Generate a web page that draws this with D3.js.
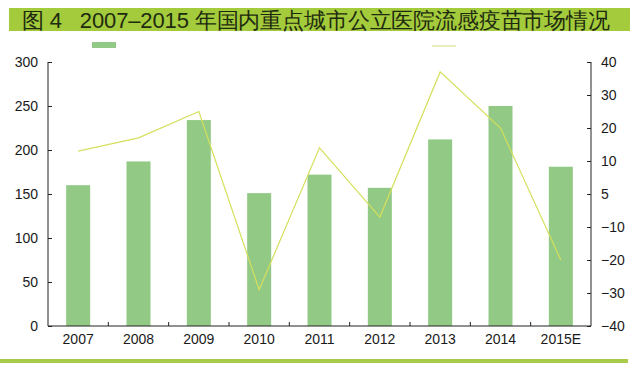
<!DOCTYPE html>
<html>
<head>
<meta charset="utf-8">
<script src="https://cdn.jsdelivr.net/npm/d3@7"></script>
<style>
  body { margin: 0; background: #fff; }
  text { font-family: "Liberation Sans", Arial, sans-serif; }
</style>
</head>
<body>
<div id="chart"></div>
<script>
// chart data
const years = ["2007", "2008", "2009", "2010", "2011", "2012", "2013", "2014", "2015E"];
const marketSize = [160, 187, 234, 151, 172, 157, 212, 250, 181];
const growthRate = [13, 17, 25, -29, 14, -7, 37, 20, -20];
const leftTicks = [0, 50, 100, 150, 200, 250, 300];
const rightTicks = [-40, -30, -20, -10, 0, 10, 20, 30, 40];
const rightTickLabels = ["\u221240", "\u221230", "\u221220", "\u221210", "5", "10", "20", "30", "40"];
const title = "图 4   2007\u20132015 年国内重点城市公立医院流感疫苗市场情况";

let width = 640;
let height = 369;
let margin = {"top": 62, "right": 49, "bottom": 43, "left": 48};
let innerW = width - margin.left - margin.right;
let innerH = height - margin.top - margin.bottom;

var svg = d3.select("#chart")
            .append("svg")
            .attr("width", width)
            .attr("height", height);

// title banner
svg.append("rect")
   .attr("x", 9).attr("y", 8)
   .attr("width", 621).attr("height", 23)
   .attr("fill", "#a3cb3b");
svg.append("text")
   .attr("x", 22).attr("y", 28)
   .attr("font-size", 22)
   .attr("font-family", "'Noto Sans CJK SC', sans-serif")
   .attr("fill", "#1e2a10")
   .attr("textLength", 588)
   .attr("lengthAdjust", "spacing")
   .attr("xml:space", "preserve")
   .text(title);

// bottom rule
svg.append("rect")
   .attr("x", 0).attr("y", 359)
   .attr("width", 628).attr("height", 4)
   .attr("fill", "#a8cc4a");

// legend (no labels in the original)
svg.append("rect")
   .attr("x", 92).attr("y", 42)
   .attr("width", 24).attr("height", 6)
   .attr("fill", "#93c987");
svg.append("line")
   .attr("x1", 432).attr("x2", 456)
   .attr("y1", 46).attr("y2", 46)
   .attr("stroke", "#e3e9a8").attr("stroke-width", 1.5);

var g = svg.append("g")
           .attr("transform", "translate(" + margin.left + "," + margin.top + ")");

var band = d3.scaleBand().domain(years).range([0, innerW]);
var y = d3.scaleLinear().domain([0, 300]).range([innerH, 0]);
var y2 = d3.scaleLinear().domain([-40, 40]).range([innerH, 0]);

// bars
g.selectAll(".bar")
 .data(years)
 .enter()
 .append("rect")
 .attr("class", "bar")
 .attr("x", (d) => band(d) + band.bandwidth() / 2 - 12)
 .attr("width", 24)
 .attr("y", (d, i) => y(marketSize[i]))
 .attr("height", (d, i) => innerH - y(marketSize[i]))
 .attr("fill", "#91c985");

// growth line
var line = d3.line()
             .x((d, i) => band(years[i]) + band.bandwidth() / 2)
             .y((d) => y2(d));
g.append("path")
 .datum(growthRate)
 .attr("d", line)
 .attr("fill", "none")
 .attr("stroke", "#d6df5c")
 .attr("stroke-width", 1.2);

// axes
var leftAxis = d3.axisLeft(y).tickValues(leftTicks).tickSize(-4).tickPadding(10);
var la = g.append("g").call(leftAxis);
la.select(".domain").attr("d", "M0,0V" + innerH);

var rightAxis = d3.axisRight(y2).tickValues(rightTicks).tickSize(-4).tickPadding(10)
                  .tickFormat((d, i) => rightTickLabels[i]);
var ra = g.append("g").attr("transform", "translate(" + innerW + ",0)").call(rightAxis);
ra.select(".domain").attr("d", "M0,0V" + innerH);

var bottomAxis = d3.axisBottom(band).tickSize(0).tickPadding(8);
var ba = g.append("g").attr("transform", "translate(0," + innerH + ")").call(bottomAxis);
ba.select(".domain").attr("d", "M0,0H" + innerW);

// small ticks between categories
g.selectAll(".sep")
 .data(years.slice(1))
 .enter()
 .append("line")
 .attr("x1", (d) => band(d))
 .attr("x2", (d) => band(d))
 .attr("y1", innerH)
 .attr("y2", innerH - 4)
 .attr("stroke", "#222");

svg.selectAll(".tick text")
   .attr("font-size", 14)
   .attr("font-family", "'Liberation Sans', Arial, sans-serif")
   .attr("fill", "#1a1a1a");
svg.selectAll(".domain, .tick line").attr("stroke", "#222");
</script>
</body>
</html>
